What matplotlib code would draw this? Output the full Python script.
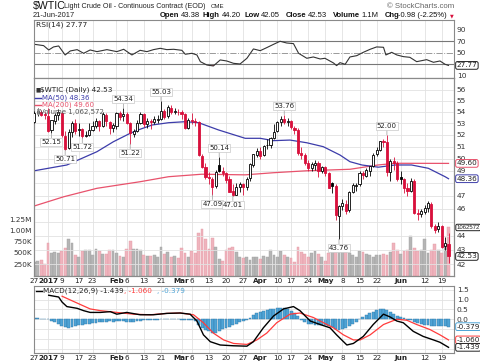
import matplotlib
matplotlib.use("Agg")
import matplotlib.pyplot as plt
from matplotlib.lines import Line2D
from matplotlib.ticker import NullLocator
import numpy as np

W, H = 480, 363
RED = "#d8103c"
MA50_COL = "#3c3caa"
MA200_COL = "#e8526c"
HIST_COL = "#4ea4d6"
GRID = "#e2e2e2"

# ---- daily bars 27-Dec-2016 .. 21-Jun-2017 (122 sessions) ----
opens = [53.10, 53.90, 54.00, 53.80, 53.60, 52.40, 53.20, 53.70, 53.90, 51.90,
         50.90, 52.20, 53.00, 52.40, 52.50, 51.90, 52.00, 52.40, 52.80, 53.20,
         52.80, 53.70, 53.10, 52.60, 52.80, 53.90, 53.60, 53.80, 53.00, 52.10,
         52.30, 53.00, 53.80, 52.90, 53.20, 53.10, 53.30, 53.40, 54.10, 53.60,
         54.40, 54.00, 54.00, 54.00, 53.80, 52.60, 53.30, 53.20, 53.10, 50.20,
         49.30, 48.50, 48.30, 47.80, 49.50, 49.00, 48.80, 48.30, 47.40, 47.10,
         47.70, 47.90, 47.70, 48.40, 49.50, 50.30, 50.60, 50.30, 51.10, 51.10,
         51.70, 52.30, 53.10, 53.40, 53.10, 53.20, 52.60, 52.40, 50.50, 50.30,
         49.60, 49.20, 49.50, 49.60, 49.00, 49.30, 48.80, 48.00, 47.80, 45.50,
         46.20, 46.40, 45.90, 47.30, 47.80, 47.90, 48.80, 48.60, 49.00, 49.40,
         50.40, 50.70, 51.50, 51.40, 48.90, 49.80, 49.60, 48.50, 48.30, 47.60,
         47.40, 48.20, 45.70, 45.60, 45.80, 46.10, 46.40, 44.70, 44.50, 44.70,
         43.30, 43.38]
highs = [54.10, 54.40, 54.20, 54.00, 54.40, 53.30, 53.90, 54.30, 54.00, 52.30,
         52.50, 53.20, 53.40, 53.00, 52.60, 52.30, 53.00, 53.20, 53.50, 53.30,
         54.00, 53.90, 53.20, 53.00, 54.00, 54.10, 54.34, 54.00, 53.10, 52.50,
         53.30, 54.00, 53.90, 53.50, 53.40, 53.60, 53.70, 55.03, 54.30, 54.60,
         54.60, 54.40, 54.30, 54.20, 53.90, 53.50, 53.90, 53.50, 53.20, 50.40,
         49.60, 48.90, 48.50, 49.10, 50.14, 49.30, 48.90, 48.60, 47.90, 48.00,
         48.10, 48.00, 48.50, 49.60, 50.40, 50.90, 51.00, 51.10, 51.60, 51.80,
         52.90, 53.20, 53.60, 53.76, 53.50, 53.30, 52.80, 52.60, 51.00, 50.50,
         49.90, 49.70, 49.90, 49.80, 49.40, 49.40, 48.90, 48.10, 47.90, 46.30,
         46.80, 46.70, 47.40, 48.00, 48.00, 49.00, 49.00, 49.20, 49.40, 50.50,
         51.00, 51.50, 51.60, 52.00, 50.00, 50.10, 49.80, 49.00, 48.40, 48.00,
         48.40, 48.30, 46.00, 46.00, 46.30, 46.60, 46.50, 44.90, 45.00, 44.80,
         43.90, 44.20]
lows = [53.00, 53.60, 53.60, 53.40, 52.20, 52.15, 52.90, 53.30, 51.80, 50.71,
        50.80, 51.80, 52.10, 51.90, 51.72, 51.80, 51.90, 52.30, 52.60, 52.30,
        52.70, 52.80, 52.10, 52.20, 52.50, 53.30, 53.20, 52.90, 51.22, 51.80,
        52.20, 52.90, 52.70, 52.60, 52.50, 52.90, 53.00, 53.30, 53.40, 53.50,
        53.80, 53.80, 53.70, 53.40, 52.50, 52.50, 52.90, 52.80, 50.20, 49.20,
        48.30, 47.90, 47.09, 47.60, 48.90, 48.60, 48.00, 47.30, 47.01, 47.05,
        47.30, 47.10, 47.50, 48.20, 49.30, 50.10, 50.00, 50.20, 50.80, 50.90,
        51.60, 52.20, 52.80, 52.90, 52.80, 52.50, 52.10, 50.30, 50.00, 49.50,
        49.00, 49.00, 49.10, 48.50, 48.80, 48.60, 47.60, 47.20, 45.20, 43.76,
        45.90, 45.60, 45.80, 47.20, 47.40, 47.80, 48.30, 48.50, 48.60, 49.30,
        50.20, 50.60, 51.00, 48.60, 48.20, 49.10, 48.20, 47.90, 47.20, 47.00,
        47.30, 45.60, 45.20, 45.40, 45.60, 45.80, 44.60, 44.20, 44.30, 43.10,
        43.00, 42.05]
closes = [53.90, 54.06, 53.77, 53.72, 52.33, 53.26, 53.76, 53.99, 51.96, 50.82,
          52.25, 53.01, 52.37, 52.48, 51.90, 52.00, 52.42, 52.75, 53.18, 52.75,
          53.78, 53.17, 52.63, 52.81, 53.88, 53.54, 53.83, 53.01, 52.17, 52.34,
          53.00, 53.86, 52.93, 53.20, 53.11, 53.36, 53.40, 54.06, 53.59, 54.45,
          53.99, 54.05, 54.01, 53.83, 52.61, 53.33, 53.20, 53.14, 50.28, 49.28,
          48.49, 48.40, 47.72, 48.86, 49.00, 48.78, 48.22, 47.34, 47.04, 47.70,
          47.97, 47.73, 48.37, 49.51, 50.35, 50.60, 50.24, 51.03, 51.15, 51.70,
          52.24, 53.08, 53.40, 53.11, 53.18, 52.65, 52.41, 50.44, 50.27, 49.62,
          49.23, 49.56, 49.62, 48.97, 49.33, 48.84, 47.66, 47.82, 45.52, 46.22,
          46.43, 45.88, 47.33, 47.83, 47.84, 48.85, 48.66, 49.07, 49.35, 50.33,
          50.73, 51.47, 51.36, 48.90, 49.80, 49.66, 48.32, 48.36, 47.66, 47.40,
          48.19, 45.72, 45.64, 45.83, 46.08, 46.46, 44.73, 44.46, 44.74, 43.20,
          43.51, 42.53]
volume_k = [300, 320, 350, 250, 710, 500, 510, 500, 540, 600,
            800, 720, 450, 400, 550, 560, 560, 450, 580, 550,
            480, 470, 560, 560, 490, 440, 400, 580, 760, 590,
            580, 560, 450, 440, 430, 460, 400, 640, 480, 530,
            420, 430, 380, 600, 500, 420, 540, 490, 930, 1020,
            800, 590, 840, 620, 360, 320, 560, 600, 640, 520,
            400, 380, 420, 350, 400, 420, 360, 430, 400, 560,
            450, 420, 550, 450, 420, 380, 300, 640, 520, 480,
            420, 500, 550, 480, 400, 320, 500, 620, 550, 560,
            600, 610, 500, 450, 420, 550, 520, 480, 450, 420,
            460, 450, 480, 460, 520, 720, 560, 470, 550, 560,
            880, 600, 550, 560, 800, 500, 560, 700, 560, 500,
            680, 1063]

# moving averages, read as points (session index, price)
ma50_i = [0, 9.5, 18.3, 23.1, 28.0, 30.9, 34.4, 39.2, 44.1, 48.0, 53.8, 61.6,
          66.0, 69.8, 74.7, 79.6, 84.4, 89.3, 92.2, 95.7, 100.5, 105.4, 110.2,
          115.1, 120.0, 121]
ma50_v = [49.0, 49.47, 50.57, 51.41, 52.13, 52.48, 52.85, 53.05, 53.14, 53.05,
          52.42, 51.7, 51.7, 51.5, 51.55, 51.32, 50.99, 50.29, 49.74, 49.47,
          49.29, 49.47, 49.47, 49.2, 48.52, 48.36]
ma200_i = [0, 8.6, 18.3, 30.9, 39.2, 48.9, 61.6, 69.8, 79.6, 92.2, 100.4, 105.4, 121]
ma200_v = [46.23, 46.94, 47.6, 48.12, 48.52, 48.72, 48.67, 48.84, 49.0, 49.12,
           49.47, 49.61, 49.60]

# RSI(14) points
rsi_i = [0, 2.7, 4.2, 5.6, 7.1, 9.0, 10.5, 12.5, 14.4, 16.3, 18.3, 21.2, 24.1,
         26.1, 28.5, 30.9, 32.9, 34.8, 36.8, 38.7, 40.7, 43.1, 44.1, 46.0, 47.5,
         48.5, 50.4, 52.3, 54.3, 56.2, 58.2, 60.1, 62.1, 64.0, 66.0, 67.9, 69.9,
         71.8, 73.7, 75.7, 77.2, 79.6, 81.5, 83.5, 84.9, 87.4, 88.3, 89.3, 90.8,
         92.2, 94.2, 96.1, 98.1, 100.0, 102.0, 102.7, 104.4, 105.9, 107.8, 109.7,
         111.7, 114.6, 116.6, 118.5, 120.0, 121]
rsi_v = [64.6, 62.3, 54.7, 60.0, 61.7, 46.0, 53.0, 55.3, 48.9, 54.7, 51.8, 55.3,
         51.8, 55.9, 46.0, 54.1, 51.8, 55.3, 57.6, 55.3, 55.9, 54.1, 47.2, 48.9,
         46.0, 34.3, 28.5, 26.8, 37.3, 35.5, 31.4, 30.3, 40.2, 56.5, 53.5, 58.8,
         64.6, 69.9, 66.9, 65.8, 48.9, 40.2, 42.5, 39.0, 40.2, 32.0, 27.4, 32.6,
         29.7, 42.5, 44.8, 50.6, 55.9, 60.0, 59.4, 46.0, 50.6, 46.0, 43.1, 41.9,
         34.3, 37.8, 33.2, 35.5, 29.7, 27.77]

# MACD(12,26,9) points
macd_i = [4.2, 7.1, 8.1, 9.5, 12.5, 14.4, 16.3, 19.3, 22.2, 24.1, 27.0, 30.9,
          34.8, 38.7, 42.6, 45.5, 47.5, 49.4, 51.4, 54.3, 58.2, 62.1, 64.0, 66.9,
          69.9, 72.8, 75.7, 77.6, 80.6, 83.5, 86.4, 88.3, 91.3, 93.2, 96.1, 99.0,
          102.0, 103.9, 105.9, 107.8, 110.7, 113.6, 116.6, 118.5, 121]
macd_v = [1.23, 1.14, 0.88, 0.65, 0.56, 0.44, 0.35, 0.35, 0.39, 0.26, 0.35, 0.23,
          0.23, 0.30, 0.32, 0.26, -0.09, -0.80, -1.15, -1.32, -1.36, -1.38, -1.15,
          -0.44, 0.17, 0.53, 0.65, 0.44, -0.09, -0.27, -0.44, -0.80, -1.32, -1.24,
          -0.88, -0.27, 0.26, 0.12, -0.09, -0.18, -0.62, -0.88, -1.06, -1.18, -1.439]
signal_i = [8.1, 12.5, 16.3, 19.3, 24.1, 29.0, 33.9, 38.7, 42.6, 46.5, 49.4, 52.3,
            55.3, 58.2, 62.1, 65.0, 67.9, 70.8, 74.7, 77.6, 81.5, 84.5, 87.4, 90.3,
            93.2, 95.2, 98.1, 102.0, 105.9, 108.8, 111.7, 115.6, 118.5, 121]
signal_v = [1.18, 0.83, 0.53, 0.44, 0.35, 0.26, 0.23, 0.30, 0.32, 0.23, -0.18,
            -0.71, -1.06, -1.24, -1.29, -1.06, -0.71, -0.18, 0.26, 0.32, 0.09,
            -0.18, -0.44, -0.80, -1.06, -1.06, -0.80, -0.27, 0.0, -0.05, -0.27,
            -0.53, -0.80, -1.060]
hist_v = [0.05, 0.05, 0.03, 0.02, 0.0, -0.1, -0.15, -0.25, -0.35,
          -0.42, -0.44, -0.4, -0.35, -0.3, -0.28, -0.25, -0.22, -0.2, -0.18,
          -0.15, -0.14, -0.12, -0.1, -0.12, -0.1, -0.08, -0.1, -0.12, -0.15,
          -0.12, -0.1, -0.08, -0.06, -0.05, -0.04, -0.03, -0.02, 0.0, -0.01,
          0.0, 0.02, 0.01, 0.0, -0.02, -0.05, -0.06, -0.05, -0.1, -0.3, -0.45,
          -0.55, -0.62, -0.7, -0.68, -0.6, -0.52, -0.45, -0.38, -0.3, -0.22,
          -0.15, -0.1, -0.02, 0.08, 0.2, 0.3, 0.36, 0.4, 0.45, 0.5, 0.54, 0.58,
          0.6, 0.57, 0.5, 0.4, 0.3, 0.15, -0.05, -0.15, -0.22, -0.25, -0.28,
          -0.3, -0.32, -0.3, -0.35, -0.42, -0.5, -0.55, -0.5, -0.45, -0.35,
          -0.25, -0.12, 0.0, 0.1, 0.2, 0.3, 0.38, 0.45, 0.52, 0.55, 0.45, 0.35,
          0.25, 0.15, 0.1, 0.05, -0.02, -0.05, -0.12, -0.2, -0.25, -0.28, -0.3,
          -0.33, -0.35, -0.36, -0.37, -0.37, -0.379]

# swing high / low labels
swing_i = [5, 9, 14, 26, 28, 37, 54, 52, 58, 73, 89, 103]
swing_p = [52.15, 50.71, 51.72, 54.34, 51.22, 55.03, 50.14, 47.09, 47.01, 53.76, 43.76, 52.00]
swing_hi = [False, False, False, True, False, True, True, False, False, True, False, True]

price_ticks = [42, 43, 44, 46, 47, 49, 50, 51, 52, 53, 54, 55, 56]
tick_pos = [0, 4, 8, 13, 17, 24, 27, 32, 37, 43, 46, 51, 56, 61, 66, 71, 75, 80,
            85, 90, 95, 100, 107, 114, 119]
tick_lbl = ["27", "2017", "9", "17", "23", "Feb", "6", "13", "21", "Mar", "6", "13",
            "20", "27", "Apr", "10", "17", "24", "May", "8", "15", "22", "Jun", "12", "19"]

SANS = ["DejaVu Sans"]
HEAD = ["Liberation Sans", "DejaVu Sans"]
plt.rcParams["font.family"] = SANS


def rect(top, bottom, left=34, right=454):
    return [left / W, 1 - bottom / H, (right - left) / W, (bottom - top) / H]


def ftext(x, y, s, **kw):
    kw.setdefault("va", "center")
    kw.setdefault("fontsize", 5.6)
    return fig.text(x / W, 1 - y / H, s, **kw)


def fline(x0, x1, y, color, lw=1.0):
    fig.add_artist(Line2D([x0 / W, x1 / W], [1 - y / H, 1 - y / H], color=color, lw=lw,
                          transform=fig.transFigure))


def frame(a):
    for s in a.spines.values():
        s.set_color("#8a8a8a")
        s.set_linewidth(0.8)


def tag(a, y, s, ec, size=5.2, family=None):
    a.text(1.006, y, s, transform=a.get_yaxis_transform(), ha="left",
           va="center", fontsize=size, color="#222", zorder=10, clip_on=False,
           family=family or SANS,
           bbox=dict(boxstyle="round,pad=0.12,rounding_size=0.25", fc="white", ec=ec, lw=0.7))


def date_axis(a):
    a.set_xticks(tick_pos)
    a.set_xticklabels(tick_lbl)
    a.tick_params(axis="x", length=0, labelsize=5.2, pad=1.5, colors="#222")
    for lab in a.get_xticklabels():
        if not lab.get_text().isdigit() or lab.get_text() == "2017":
            lab.set_fontweight("bold")


idx = np.arange(len(closes))
o, h, l, c = (np.array(v) for v in (opens, highs, lows, closes))
prev = np.r_[c[0], c[:-1]]
up = c >= prev
col = np.where(up, "black", RED)
hollow = c >= o
XL = (-0.1, 122.6)

fig = plt.figure(figsize=(W / 100, H / 100), dpi=100)

# ---- RSI panel ----
ax_rsi = fig.add_axes(rect(20, 78))
ax_rsi.set_xlim(*XL)
ax_rsi.set_ylim(5.8, 107)
for t in tick_pos:
    ax_rsi.axvline(t, color=GRID, lw=0.6, zorder=0)
ax_rsi.axhline(70, color="#777", lw=0.8)
ax_rsi.axhline(30, color="#777", lw=0.8)
ax_rsi.axhline(50, color="#999", lw=0.7, ls="-.")
ax_rsi.plot(rsi_i, rsi_v, color="#333", lw=0.8)
ax_rsi.fill_between(rsi_i, rsi_v, 30, where=np.array(rsi_v) < 30, interpolate=True,
                    color=RED, lw=0)
ax_rsi.yaxis.tick_right()
ax_rsi.set_yticks([10, 50, 70, 90])
ax_rsi.tick_params(axis="y", length=0, labelsize=5.4, pad=2, colors="#333")
ax_rsi.tick_params(axis="x", bottom=False, labelbottom=False)
frame(ax_rsi)
tag(ax_rsi, 27.77, "27.77", "#222")

# ---- price + volume panel ----
ax_vol = fig.add_axes(rect(78, 275.5))
ax = fig.add_axes(rect(78, 275.5), sharex=ax_vol)
ax.set_facecolor("none")
ax_vol.set_xlim(*XL)
for t in tick_pos:
    ax_vol.axvline(t, color=GRID, lw=0.6, zorder=0)
ax_vol.bar(idx, np.array(volume_k) * 1e3, width=0.82,
           color=np.where(up, "#b5b5b5", "#efb4bd"), edgecolor=np.where(up, "#a0a0a0", "#e39aa5"),
           lw=0.3, zorder=1)
ax_vol.set_ylim(0, 4.37e6)
ax_vol.set_yticks([250e3, 500e3, 750e3, 1e6, 1.25e6])
ax_vol.set_yticklabels(["250K", "500K", "750K", "1.00M", "1.25M"])
ax_vol.tick_params(axis="y", length=0, labelsize=5.2, pad=1.5, colors="#333")
ax_vol.tick_params(axis="x", length=0, labelbottom=False)
frame(ax_vol)

ax.set_yscale("log")
ax.set_ylim(41.21, 57.12)
ax.yaxis.set_minor_locator(NullLocator())
ax.set_yticks(price_ticks)
ax.set_yticklabels([str(v) for v in price_ticks])
ax.yaxis.tick_right()
ax.tick_params(axis="y", length=0, labelsize=5.4, pad=2, colors="#333")
for g in range(42, 57):
    ax.axhline(g, color=GRID, lw=0.6, zorder=0)
date_axis(ax)
frame(ax)

ax.plot(ma200_i, ma200_v, color=MA200_COL, lw=0.9, zorder=2)
ax.plot(ma50_i, ma50_v, color=MA50_COL, lw=0.9, zorder=2)
ax.vlines(idx, l, h, colors=col, lw=0.6, zorder=3)
ax.bar(idx, np.maximum(np.abs(c - o), 0.03), bottom=np.minimum(o, c), width=0.62,
       color=np.where(hollow, "white", col), edgecolor=col, lw=0.6, zorder=4)

for i, p, hi in zip(swing_i, swing_p, swing_hi):
    ax.annotate(f"{p:.2f}", xy=(i, p), xytext=(0, 9 if hi else -9), textcoords="offset pixels",
                ha="center", va="center", fontsize=5.0, color="#222", zorder=6,
                bbox=dict(boxstyle="square,pad=0.15", fc="white", ec="#c8c8c8", lw=0.5),
                arrowprops=dict(arrowstyle="-", color="#999", lw=0.5, shrinkA=0, shrinkB=0))

tag(ax, 49.60, "49.60", MA200_COL)
tag(ax, 48.36, "48.36", MA50_COL)
tag(ax, 42.53, "42.53", "#222")
tag(ax_vol, 1.0626e6, "1062572", "#222", size=4.3, family=HEAD)

# legend in the price panel
ftext(35, 90, "\u25a0", fontsize=4, color="#333")
ftext(40, 90, "$WTIC (Daily) 42.53", color="#222", fontsize=5.2)
fline(35, 41, 97.6, MA50_COL)
ftext(42, 97.6, "MA(50) 48.36", color=MA50_COL, fontsize=5.0)
fline(35, 41, 104.8, MA200_COL)
ftext(42, 104.8, "MA(200) 49.60", color=MA200_COL, fontsize=5.0)
ftext(35, 112, "\u2590", color="#888", fontsize=4.3)
ftext(40, 112, "Volume 1,062,572", color="#555", fontsize=5.0)

# ---- MACD panel ----
ax_m = fig.add_axes(rect(285.5, 353))
ax_m.set_xlim(*XL)
ax_m.set_ylim(-1.73, 1.73)
for t in tick_pos:
    ax_m.axvline(t, color=GRID, lw=0.6, zorder=0)
for g in (1.5, 1.0, 0.5, 0.0, -0.5, -1.0, -1.5):
    ax_m.axhline(g, color=GRID, lw=0.6, zorder=0)
ax_m.bar(idx, hist_v, width=0.85, color=HIST_COL, edgecolor="#2f78a8", lw=0.3, zorder=1)
ax_m.plot(signal_i, signal_v, color="#ff3b3b", lw=0.9, zorder=3)
ax_m.plot(macd_i, macd_v, color="black", lw=1.0, zorder=4)
ax_m.yaxis.tick_right()
ax_m.set_yticks([1.5, 1.0, 0.5, 0.0])
ax_m.tick_params(axis="y", length=0, labelsize=5.4, pad=2, colors="#333")
date_axis(ax_m)
frame(ax_m)
tag(ax_m, -0.379, "-0.379", HIST_COL)
tag(ax_m, -1.060, "-1.060", "#ff3b3b")
tag(ax_m, -1.439, "-1.439", "#222")

fline(36, 42, 290.5, "black")
ftext(43, 290.5, "MACD(12,26,9) -1.439", color="#222", fontsize=5.2)
ftext(124, 290.5, ", -1.060", color="#ff3b3b", fontsize=5.2)
ftext(157, 290.5, ", -0.379", color=HIST_COL, fontsize=5.2)

# ---- header ----
ftext(33, 6.5, "$WTIC", fontsize=7.6, family=HEAD, color="#111")
ftext(64, 6.5, "Light Crude Oil - Continuous Contract (EOD)", fontsize=5.1, family=HEAD, color="#222")
ftext(211, 7, "CME", fontsize=4.4, family=HEAD, color="#222")
ftext(454, 6.5, "\u00a9 StockCharts.com", ha="right", fontsize=5.6, family=HEAD, color="#666")
ftext(33, 15.5, "21-Jun-2017", fontsize=5.4, family=HEAD, color="#222")
hdr = [(159.3, "Open", True), (181, "43.38", False), (202.7, "High", True), (222.3, "44.20", False),
       (244.3, "Low", True), (260.7, "42.05", False), (285.7, "Close", True), (308.3, "42.53", False),
       (332.7, "Volume", True), (361.7, "1.1M", False), (385, "Chg", True), (398.3, "-0.98 (-2.25%)", False)]
for x, s, b in hdr:
    ftext(x, 15.5, s, fontsize=5.5, family=HEAD, color="#111",
          fontweight="bold" if b else "normal")
ftext(450, 16, "\u25bc", fontsize=3.5, color=RED)
ftext(36, 24.5, "RSI(14) 27.77", fontsize=5.4, color="#222")

fig.savefig("out.png", dpi=100)
